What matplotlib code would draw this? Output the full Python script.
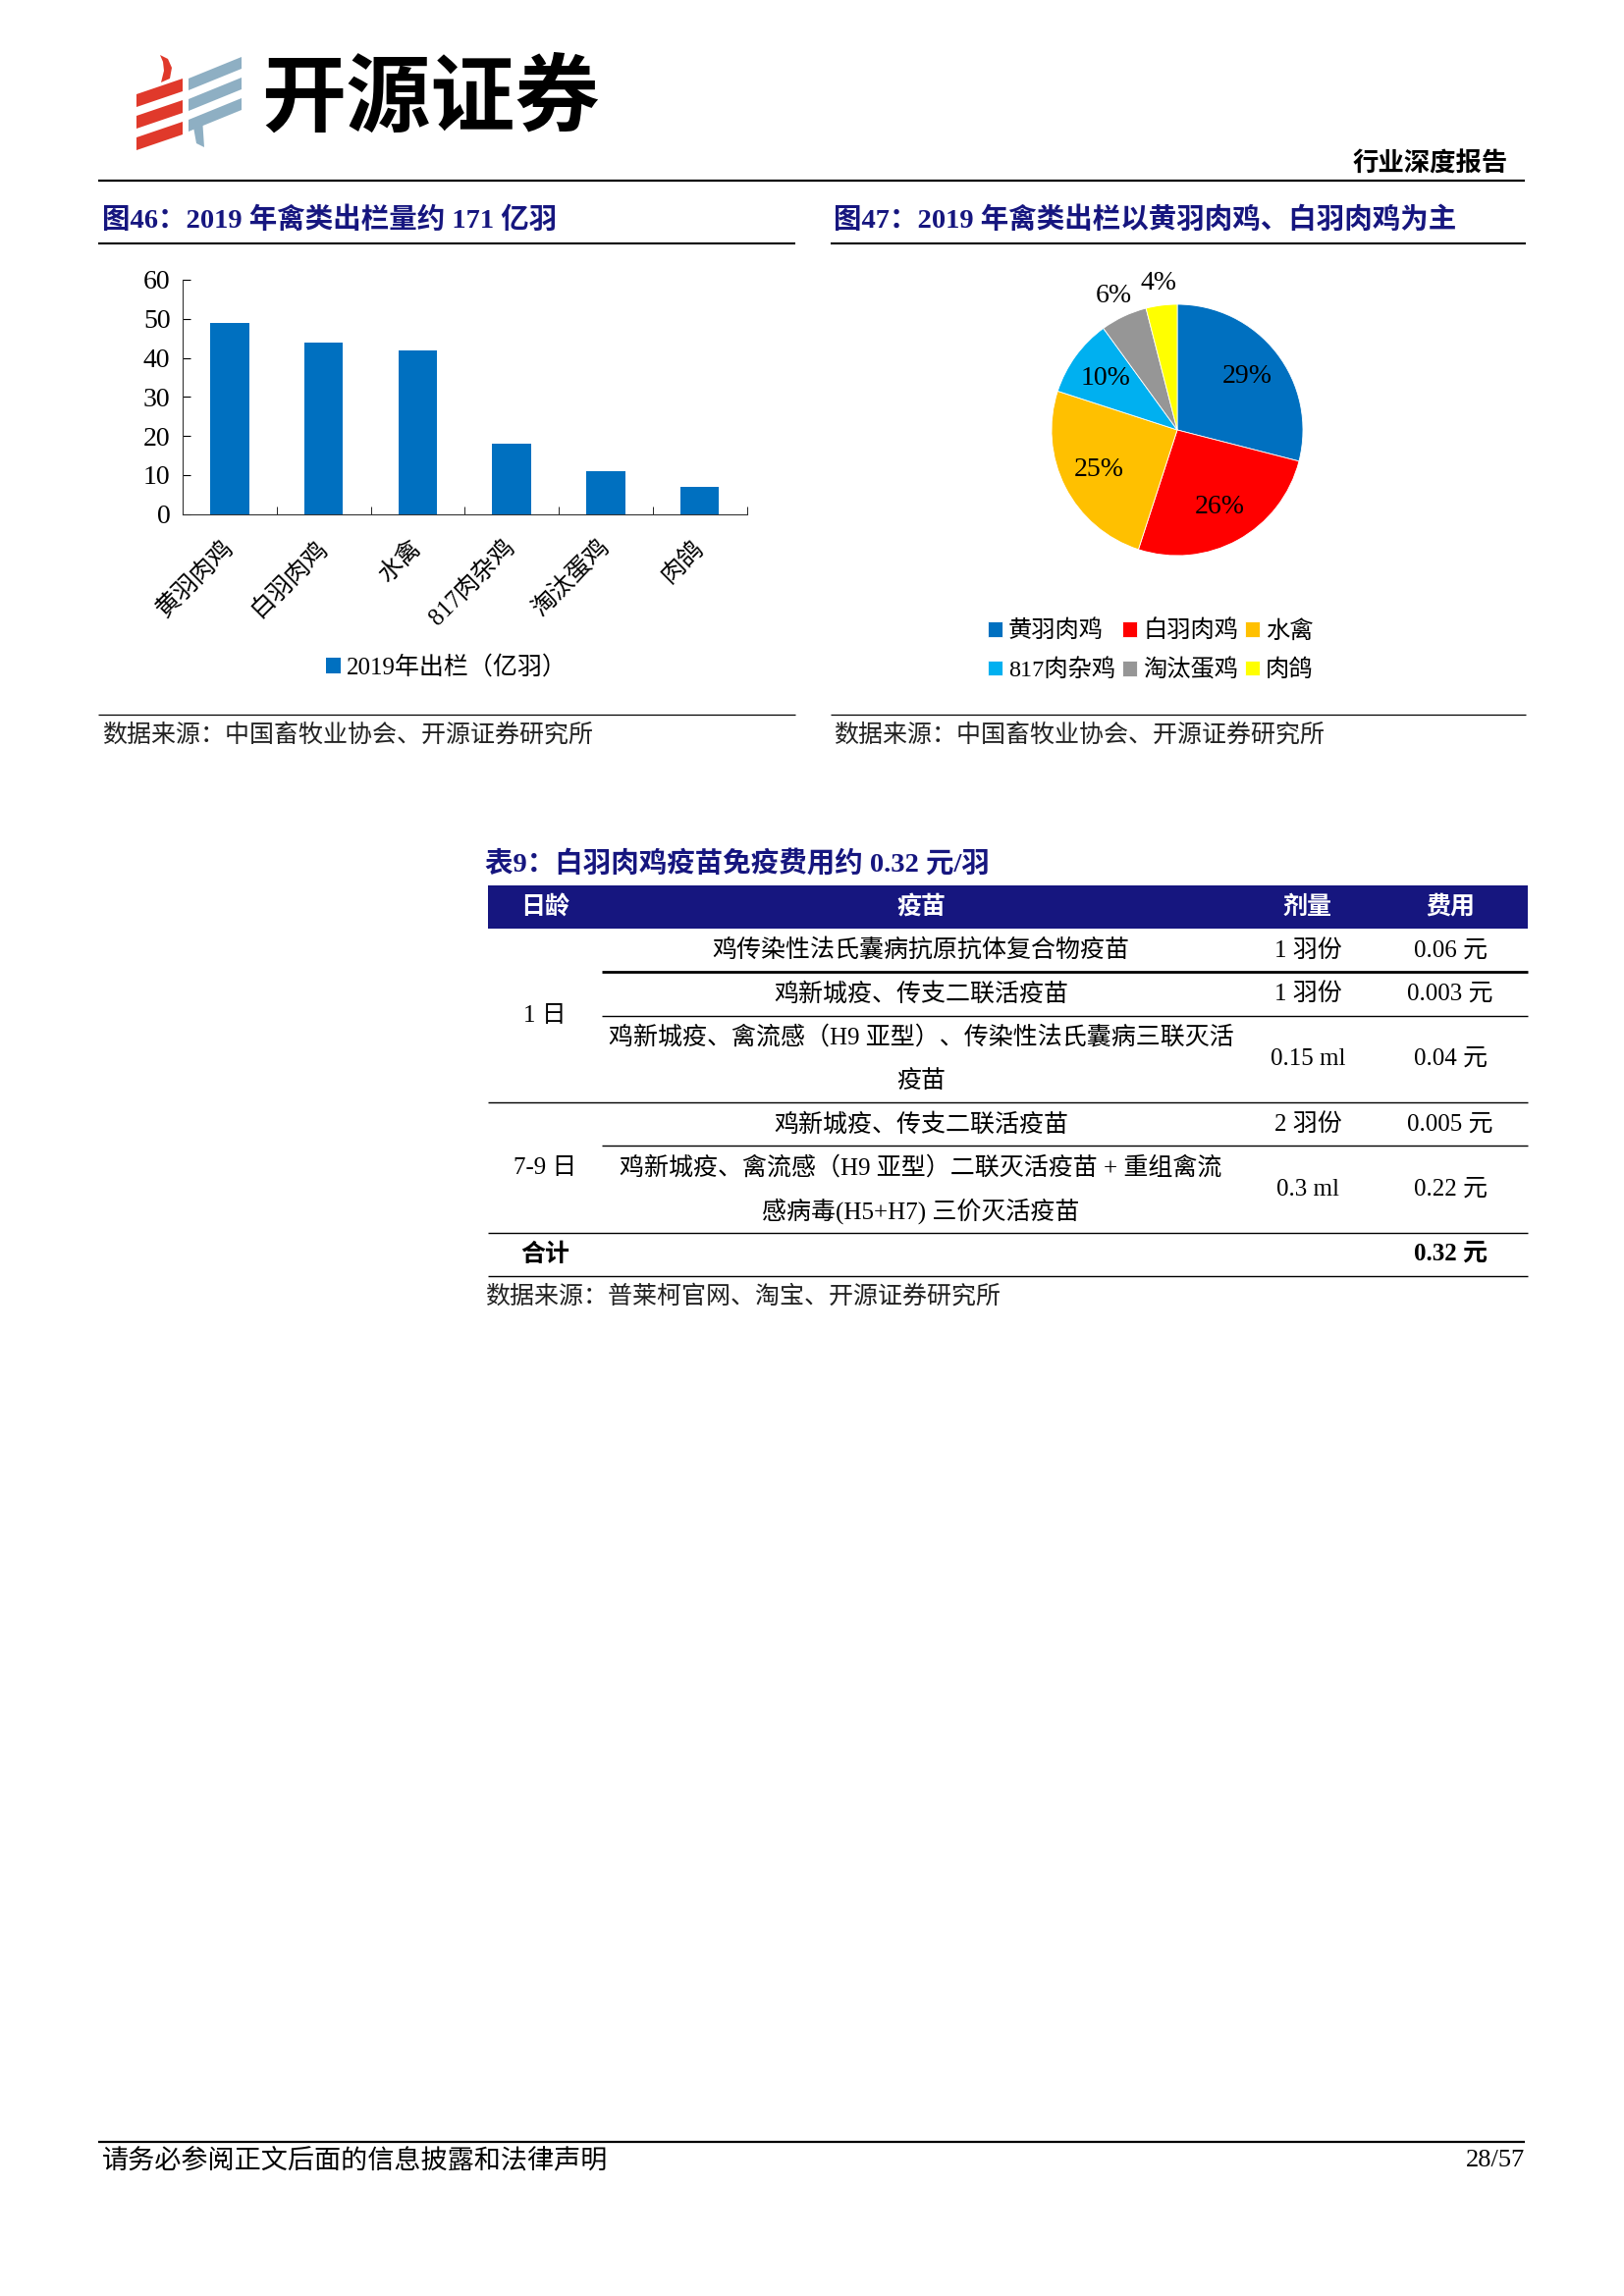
import matplotlib
matplotlib.use('Agg')
import matplotlib.pyplot as plt
from matplotlib.patches import Polygon, Rectangle
import numpy as np

plt.rcParams['font.family'] = ['Liberation Serif', 'Noto Sans CJK SC', 'DejaVu Sans']
CJK = ['Noto Sans CJK SC', 'DejaVu Sans']
MIX = ['Liberation Serif', 'Noto Sans CJK SC', 'DejaVu Sans']

W, H = 1654, 2339
NAVY = '#16167F'
BLUE = '#0070C0'

# 图46 / 图47 数据
poultry = ['黄羽肉鸡', '白羽肉鸡', '水禽', '817肉杂鸡', '淘汰蛋鸡', '肉鸽']
output_2019 = [49, 44, 42, 18, 11, 7]
share_2019 = [29, 26, 25, 10, 6, 4]
pie_colors = ['#0070C0', '#FF0000', '#FFC000', '#00B0F0', '#969696', '#FFFF00']

# 表9 数据
vac_age = ['1 日', '1 日', '1 日', '7-9 日', '7-9 日']
vac_name = [['鸡传染性法氏囊病抗原抗体复合物疫苗'],
            ['鸡新城疫、传支二联活疫苗'],
            ['鸡新城疫、禽流感（H9 亚型）、传染性法氏囊病三联灭活', '疫苗'],
            ['鸡新城疫、传支二联活疫苗'],
            ['鸡新城疫、禽流感（H9 亚型）二联灭活疫苗 + 重组禽流', '感病毒(H5+H7) 三价灭活疫苗']]
vac_dose = ['1 羽份', '1 羽份', '0.15 ml', '2 羽份', '0.3 ml']
vac_cost = ['0.06 元', '0.003 元', '0.04 元', '0.005 元', '0.22 元']
total_cost = '0.32 元'
table_head = ['日龄', '疫苗', '剂量', '费用']

fig = plt.figure(figsize=(W / 100, H / 100), dpi=100)
page = fig.add_axes([0, 0, 1, 1])
page.set_xlim(0, W)
page.set_ylim(H, 0)
page.axis('off')


def hline(y, x0, x1, lw=1.4, color='black'):
    page.plot([x0, x1], [y, y], color=color, lw=lw, solid_capstyle='butt')


def box(x0, y_top, x1, y_bot):
    return [x0 / W, 1 - y_bot / H, (x1 - x0) / W, (y_bot - y_top) / H]


# ---- header / logo
red = '#E0392B'
grey_blue = '#8EAFC3'
for i in range(3):
    page.add_patch(Polygon([(139, 96 + 22 * i), (186, 80 + 22 * i), (186, 93 + 22 * i), (139, 109 + 22 * i)],
                           closed=True, color=red, lw=0))
    page.add_patch(Polygon([(192, 80 + 21 * i), (246, 58 + 21 * i), (246, 70 + 21 * i), (192, 92 + 21 * i)],
                           closed=True, color=grey_blue, lw=0))
page.add_patch(Polygon([(163, 56), (171, 60), (175, 69), (173, 80), (164, 84), (167, 72), (166, 63)],
                       closed=True, color=red, lw=0))
page.add_patch(Polygon([(196, 124), (206, 120), (208, 150), (200, 146)], closed=True, color=grey_blue, lw=0))
page.text(266, 101, '开源证券', fontsize=62, fontweight='bold', family=CJK, va='center', ha='left')
page.text(1536, 167, '行业深度报告', fontsize=19, fontweight='bold', family=CJK, va='center', ha='right')
hline(183.5, 100, 1553, lw=1.6)

# ---- titles
page.text(104, 224, '图46：2019 年禽类出栏量约 171 亿羽', fontsize=20.5, fontweight='bold', family=MIX,
          color=NAVY, va='center')
page.text(849, 224, '图47：2019 年禽类出栏以黄羽肉鸡、白羽肉鸡为主', fontsize=20.5, fontweight='bold', family=MIX,
          color=NAVY, va='center')
hline(248, 100, 810, lw=1.5)
hline(248, 846, 1554, lw=1.5)

# ---- bar chart
ax = fig.add_axes(box(186, 285, 760.5, 523.5))
x = np.arange(len(poultry))
bars = ax.bar(x, output_2019, width=0.41, color=BLUE, zorder=2)
ax.set_xlim(-0.5, len(poultry) - 0.5)
ax.set_ylim(0, 60)
ax.set_yticks(range(0, 61, 10))
ax.tick_params(axis='y', direction='in', length=6, labelsize=20, pad=9)
ax.set_xticks(x)
ax.set_xticklabels(poultry, rotation=45, ha='right', va='center', rotation_mode='anchor',
                   family=MIX, fontsize=18)
ax.tick_params(axis='x', which='major', length=0, pad=22)
ax.set_xticks(np.arange(0.5, len(poultry), 1), minor=True)
ax.tick_params(axis='x', which='minor', direction='in', length=6)
for s in ['top', 'right']:
    ax.spines[s].set_visible(False)
for s in ['left', 'bottom']:
    ax.spines[s].set_color('#333333')
ax.legend([bars], ['2019年出栏（亿羽）'], loc='center', bbox_to_anchor=(455 / W, 1 - 680 / H),
          bbox_transform=fig.transFigure, frameon=False, prop={'family': MIX, 'size': 18},
          handlelength=0.6, handleheight=0.6, handletextpad=0.25)

# ---- pie chart
pax = fig.add_axes(box(1071, 310, 1327, 566))
wedges, _ = pax.pie(share_2019, colors=pie_colors, startangle=90, counterclock=False,
                    wedgeprops={'edgecolor': 'white', 'linewidth': 0.6})
pax.set_xlim(-1, 1)
pax.set_ylim(-1, 1)
for w, v in zip(wedges, share_2019):
    ang = np.deg2rad((w.theta1 + w.theta2) / 2)
    r = 0.7 if v >= 10 else 1.18
    pax.text(r * np.cos(ang), r * np.sin(ang), f'{v}%', ha='center', va='center',
             fontsize=20, family=MIX)
order = [0, 3, 1, 4, 2, 5]
pax.legend([wedges[i] for i in order], [poultry[i] for i in order], ncol=3, loc='center',
           bbox_to_anchor=(1172 / W, 1 - 663 / H), bbox_transform=fig.transFigure, frameon=False,
           prop={'family': MIX, 'size': 17.5}, handlelength=0.6, handleheight=0.6,
           handletextpad=0.25, columnspacing=0.3, labelspacing=0.7)

# ---- sources
hline(728, 100, 810, lw=0.9)
hline(728, 846, 1554, lw=0.9)
page.text(104, 749, '数据来源：中国畜牧业协会、开源证券研究所', fontsize=18, family=CJK, color='#222222', va='center')
page.text(849, 749, '数据来源：中国畜牧业协会、开源证券研究所', fontsize=18, family=CJK, color='#222222', va='center')

# ---- table 9
page.text(494, 880, '表9：白羽肉鸡疫苗免疫费用约 0.32 元/羽', fontsize=20.5, fontweight='bold', family=MIX,
          color=NAVY, va='center')
tx0, tx1 = 497, 1556
col_x = [555, 938, 1332, 1477]
page.add_patch(Rectangle((tx0, 902), tx1 - tx0, 44, color=NAVY, lw=0))
for cx, t in zip(col_x, table_head):
    page.text(cx, 924, t, fontsize=18, fontweight='bold', family=CJK, color='white', ha='center', va='center')

line_h = 44.3
y = 946
group_start = y
for i in range(len(vac_name)):
    lines = vac_name[i]
    h = line_h * len(lines)
    for j, t in enumerate(lines):
        page.text(col_x[1], y + line_h * (j + 0.5), t, fontsize=18, family=MIX, ha='center', va='center')
    page.text(col_x[2], y + h / 2, vac_dose[i], fontsize=18, family=MIX, ha='center', va='center')
    page.text(col_x[3], y + h / 2, vac_cost[i], fontsize=18, family=MIX, ha='center', va='center')
    y += h
    last = i == len(vac_name) - 1 or vac_age[i + 1] != vac_age[i]
    if last:
        page.text(col_x[0], (group_start + y) / 2, vac_age[i], fontsize=18, family=MIX,
                  ha='center', va='center')
        hline(y, tx0, tx1, lw=1.0)
        group_start = y
    else:
        hline(y, 613, tx1, lw=2.0 if i == 0 else 1.0)

page.text(col_x[0], y + line_h / 2, '合计', fontsize=18, fontweight='bold', family=CJK, ha='center', va='center')
page.text(col_x[3], y + line_h / 2, total_cost, fontsize=18, fontweight='bold', family=MIX,
          ha='center', va='center')
y += line_h
hline(y, tx0, tx1, lw=1.0)
page.text(494, 1321, '数据来源：普莱柯官网、淘宝、开源证券研究所', fontsize=18, family=CJK, color='#222222', va='center')

# ---- footer
hline(2182, 100, 1553, lw=1.6)
page.text(104, 2201, '请务必参阅正文后面的信息披露和法律声明', fontsize=19.5, family=CJK, va='center')
page.text(1553, 2201, '28/57', fontsize=19, family=MIX, va='center', ha='right')

fig.savefig('out.png', dpi=100)
